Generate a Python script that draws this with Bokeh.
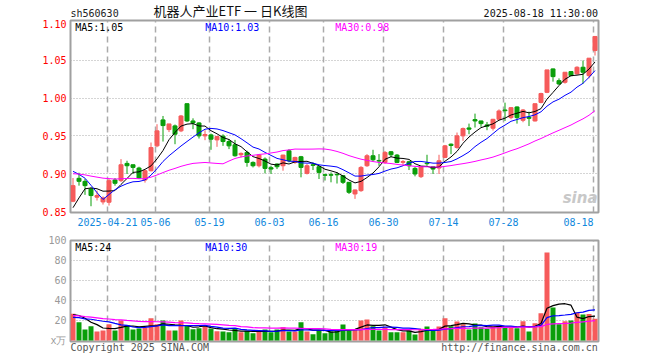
import numpy as np
from bokeh.plotting import figure
from bokeh.models import ColumnDataSource, FixedTicker, Label, Range1d, PrintfTickFormatter
from bokeh.layouts import column
from bokeh.embed import file_html
from bokeh.resources import INLINE

# ---------------- data ----------------
dates = [
    "2025-04-11", "2025-04-14", "2025-04-15", "2025-04-16", "2025-04-17", "2025-04-18",
    "2025-04-21", "2025-04-22", "2025-04-23", "2025-04-24", "2025-04-25", "2025-04-28",
    "2025-04-29", "2025-04-30",
    "2025-05-06", "2025-05-07", "2025-05-08", "2025-05-09", "2025-05-12", "2025-05-13",
    "2025-05-14", "2025-05-15", "2025-05-16", "2025-05-19", "2025-05-20", "2025-05-21",
    "2025-05-22", "2025-05-23", "2025-05-26", "2025-05-27", "2025-05-28", "2025-05-29",
    "2025-05-30",
    "2025-06-03", "2025-06-04", "2025-06-05", "2025-06-06", "2025-06-09", "2025-06-10",
    "2025-06-11", "2025-06-12", "2025-06-13", "2025-06-16", "2025-06-17", "2025-06-18",
    "2025-06-19", "2025-06-20", "2025-06-23", "2025-06-24", "2025-06-25", "2025-06-26",
    "2025-06-27", "2025-06-30",
    "2025-07-01", "2025-07-02", "2025-07-03", "2025-07-04", "2025-07-07", "2025-07-08",
    "2025-07-09", "2025-07-10", "2025-07-11", "2025-07-14", "2025-07-15", "2025-07-16",
    "2025-07-17", "2025-07-18", "2025-07-21", "2025-07-22", "2025-07-23", "2025-07-24",
    "2025-07-25", "2025-07-28", "2025-07-29", "2025-07-30", "2025-07-31",
    "2025-08-01", "2025-08-04", "2025-08-05", "2025-08-06", "2025-08-07", "2025-08-08",
    "2025-08-11", "2025-08-12", "2025-08-13", "2025-08-14", "2025-08-15", "2025-08-18",
]

open_ = [
    0.8636, 0.8939, 0.8899, 0.8798, 0.8689, 0.8627, 0.8623, 0.8917, 0.8908, 0.9136,
    0.9118, 0.9075, 0.8917, 0.9039, 0.9368, 0.9711, 0.9583, 0.9632, 0.9566, 0.9925,
    0.9697, 0.9671, 0.9500, 0.9513, 0.9447, 0.9496, 0.9425, 0.9382, 0.9250, 0.9281,
    0.9149, 0.9105, 0.9193, 0.9079, 0.9127, 0.9105, 0.9303, 0.9149, 0.9224, 0.9004,
    0.9118, 0.9092, 0.8987, 0.8987, 0.8990, 0.8974, 0.8886, 0.8732, 0.8776, 0.9105,
    0.9237, 0.9175, 0.9149, 0.9290, 0.9246, 0.9150, 0.9158, 0.9070, 0.8961, 0.9140,
    0.9092, 0.9075, 0.9215, 0.9390, 0.9346, 0.9500, 0.9605, 0.9715, 0.9697, 0.9645,
    0.9601, 0.9719, 0.9842, 0.9741, 0.9882, 0.9706, 0.9745, 0.9697, 0.9942, 1.0075,
    1.0385, 1.0230, 1.0208, 1.0350, 1.0319, 1.0407, 1.0296, 1.0628,
]
high = [
    0.8943, 0.9013, 0.8930, 0.8820, 0.8776, 0.8700, 0.8930, 0.8943, 0.9193, 0.9171,
    0.9120, 0.9092, 0.9050, 0.9412, 0.9654, 0.9763, 0.9658, 0.9650, 0.9776, 0.9930,
    0.9732, 0.9680, 0.9575, 0.9530, 0.9500, 0.9520, 0.9456, 0.9447, 0.9281, 0.9303,
    0.9162, 0.9259, 0.9215, 0.9105, 0.9136, 0.9250, 0.9325, 0.9224, 0.9235, 0.9127,
    0.9149, 0.9100, 0.9000, 0.9017, 0.9020, 0.8980, 0.8890, 0.8790, 0.9100, 0.9259,
    0.9316, 0.9259, 0.9300, 0.9300, 0.9260, 0.9180, 0.9170, 0.9090, 0.9100, 0.9250,
    0.9100, 0.9250, 0.9380, 0.9400, 0.9544, 0.9610, 0.9662, 0.9794, 0.9700, 0.9684,
    0.9725, 0.9850, 0.9939, 0.9880, 0.9890, 0.9855, 0.9820, 0.9925, 1.0070, 1.0372,
    1.0390, 1.0260, 1.0341, 1.0355, 1.0420, 1.0496, 1.0527, 1.0814,
]
low = [
    0.8623, 0.8842, 0.8720, 0.8570, 0.8645, 0.8592, 0.8579, 0.8842, 0.8890, 0.8996,
    0.8996, 0.8930, 0.8882, 0.9030, 0.9350, 0.9425, 0.9550, 0.9390, 0.9550, 0.9684,
    0.9588, 0.9465, 0.9443, 0.9316, 0.9355, 0.9368, 0.9325, 0.9225, 0.9215, 0.9092,
    0.9083, 0.9083, 0.9004, 0.8996, 0.9061, 0.9039, 0.9150, 0.9130, 0.8952, 0.8990,
    0.9048, 0.8930, 0.8910, 0.8886, 0.8870, 0.8864, 0.8732, 0.8667, 0.8760, 0.9090,
    0.9160, 0.9105, 0.9130, 0.9220, 0.9140, 0.9110, 0.9048, 0.8965, 0.8943, 0.9105,
    0.8996, 0.8996, 0.9206, 0.9259, 0.9330, 0.9434, 0.9522, 0.9610, 0.9620, 0.9575,
    0.9570, 0.9710, 0.9697, 0.9720, 0.9662, 0.9680, 0.9630, 0.9690, 0.9930, 1.0065,
    1.0217, 1.0175, 1.0190, 1.0290, 1.0310, 1.0186, 1.0260, 1.0562,
]
close = [
    0.8842, 0.8899, 0.8842, 0.8711, 0.8711, 0.8680, 0.8908, 0.8873, 0.9118, 0.9105,
    0.9083, 0.8943, 0.9039, 0.9346, 0.9566, 0.9636, 0.9658, 0.9522, 0.9763, 0.9697,
    0.9671, 0.9500, 0.9518, 0.9456, 0.9491, 0.9425, 0.9368, 0.9237, 0.9268, 0.9149,
    0.9105, 0.9246, 0.9070, 0.9061, 0.9092, 0.9246, 0.9171, 0.9215, 0.9083, 0.9105,
    0.9110, 0.9017, 0.8978, 0.8980, 0.8985, 0.8886, 0.8754, 0.8785, 0.9083, 0.9237,
    0.9184, 0.9167, 0.9281, 0.9250, 0.9149, 0.9160, 0.9105, 0.8996, 0.9092, 0.9132,
    0.9061, 0.9171, 0.9368, 0.9373, 0.9500, 0.9596, 0.9588, 0.9697, 0.9662, 0.9627,
    0.9719, 0.9829, 0.9833, 0.9873, 0.9741, 0.9842, 0.9732, 0.9925, 1.0060, 1.0372,
    1.0283, 1.0186, 1.0341, 1.0296, 1.0407, 1.0341, 1.0527, 1.0814,
]
# volume, unit: 10k lots
volume = [
    26.7, 18.3, 11.0, 14.3, 9.0, 10.0, 16.3, 10.0, 20.0, 15.3,
    11.0, 12.0, 12.7, 22.3, 16.3, 20.0, 10.0, 10.0, 20.0, 15.0,
    11.3, 12.3, 14.3, 11.7, 9.3, 9.0, 8.3, 11.7, 8.3, 9.7,
    7.3, 9.0, 11.0, 8.3, 11.0, 13.3, 9.0, 9.0, 18.3, 9.0,
    6.3, 10.0, 7.3, 9.0, 10.0, 16.0, 10.0, 10.7, 20.0, 21.0,
    14.3, 10.0, 13.3, 8.3, 8.3, 8.3, 10.0, 6.0, 11.7, 14.0,
    10.0, 14.0, 22.3, 14.3, 19.0, 16.3, 11.0, 17.0, 13.3, 11.7,
    14.3, 14.3, 13.3, 13.3, 12.3, 19.3, 9.0, 17.3, 27.3, 88.0,
    33.0, 16.3, 19.3, 20.0, 28.0, 26.0, 26.5, 21.7,
]
# sessions before the visible window (only feed the moving averages)
pre_close = [
    0.905, 0.915, 0.920, 0.912, 0.908, 0.910, 0.905, 0.900, 0.898, 0.905,
    0.908, 0.902, 0.875, 0.870, 0.868, 0.874, 0.878, 0.895, 0.905, 0.915,
    0.930, 0.935, 0.965, 0.968, 0.958, 0.825, 0.824, 0.866, 0.876,
]
pre_volume = [
    34, 31, 28, 30, 33, 29, 27, 30, 32, 26,
    24, 21, 20, 23, 22, 21, 22, 24, 21, 22,
    22, 22, 19, 19, 19.7, 23.3, 24.5, 34.3, 21.2,
]

tick_dates = ["2025-04-21", "2025-05-06", "2025-05-19", "2025-06-03", "2025-06-16",
              "2025-06-30", "2025-07-14", "2025-07-28", "2025-08-18"]
tick_labels = ["2025-04-21", "05-06", "05-19", "06-03", "06-16",
               "06-30", "07-14", "07-28", "08-18"]
price_ticks = [0.85, 0.90, 0.95, 1.00, 1.05, 1.10]
vol_ticks = [0, 20, 40, 60, 80, 100]

code_text = "sh560630"
title_text = "机器人产业ETF 一 日K线图"
time_text = "2025-08-18 11:30:00"
price_ma_text = ["MA5:1.05", "MA10:1.03", "MA30:0.98"]
vol_ma_text = ["MA5:24", "MA10:30", "MA30:19"]
vol_unit_text = "x万"
copyright_text = "Copyright 2025 SINA.COM"
url_text = "http://finance.sina.com.cn"

# ---------------- derived ----------------
n = len(dates)
idx = np.arange(n)


def moving_avg(vals, pre, w):
    full = np.array(list(pre) + list(vals), dtype=float)
    k = len(pre)
    return np.array([full[k + i - w + 1:k + i + 1].mean() for i in range(len(vals))])


UP = "#f65b5b"
DOWN = "#0a9e0a"
o = np.array(open_); c = np.array(close)
up = c >= o
colors = [UP if u else DOWN for u in up]
src = ColumnDataSource(dict(
    x=idx, open=o, close=c, high=np.array(high), low=np.array(low),
    top=np.maximum(o, c), bottom=np.minimum(o, c), color=colors, vol=np.array(volume),
))

ma_cols = ["black", "#0000ff", "#ff00ff"]
windows = [5, 10, 30]

MONO = "DejaVu Sans Mono"
FS = "10px"
CW = 6.02               # advance width of one DejaVu Sans Mono char at 10px
XBLUE = "#1188dd"
XR = Range1d(-0.4167, 87.5833)
W = 660
BL, BR = 70, 62          # left / right borders -> frame from x=70 to x=598

tick_pos = [dates.index(d) - 0.25 for d in tick_dates]
x_at = lambda px: XR.start + (px - BL) / 6.0


def add_label(fig, x, y, text, color, align="left", baseline="middle", y_offset=0,
              font=MONO, size=FS, style="normal"):
    fig.add_layout(Label(x=x, y=y, text=text, text_color=color, text_align=align,
                         text_baseline=baseline, y_offset=y_offset, text_font=font,
                         text_font_size=size, text_font_style=style))


def style_axis(ax, col, standoff=4):
    ax.axis_line_color = None
    ax.major_tick_line_color = None
    ax.minor_tick_line_color = None
    ax.major_tick_out = 0
    ax.major_tick_in = 0
    ax.major_label_standoff = standoff
    ax.major_label_text_color = col
    ax.major_label_text_font = MONO
    ax.major_label_text_font_size = FS


# ---------------- header row ----------------
h = figure(width=W, height=19, x_range=XR, y_range=Range1d(0, 19),
           output_backend="svg", toolbar_location=None,
           min_border_left=BL, min_border_right=BR, min_border_top=0, min_border_bottom=0)
h.outline_line_color = None
h.xaxis.visible = False
h.yaxis.visible = False
h.xgrid.visible = False
h.ygrid.visible = False
add_label(h, x_at(70), 6.5, code_text, "#222222")
add_label(h, x_at(230), 9.5, title_text, "#111111", align="center",
          font="Noto Sans CJK SC", size="13px")
add_label(h, x_at(597.5), 6.5, time_text, "#111111", align="right")

# ---------------- price figure ----------------
p = figure(width=W, height=213, x_range=XR, y_range=Range1d(0.8487, 1.1025),
           output_backend="svg", toolbar_location=None,
           min_border_left=BL, min_border_right=BR, min_border_top=1, min_border_bottom=20)
p.outline_line_color = "#a0a0a0"
p.outline_line_width = 2

p.xaxis.ticker = FixedTicker(ticks=tick_pos)
overrides = {t: l for t, l in zip(tick_pos, tick_labels)}
overrides[tick_pos[-1]] = tick_labels[-1] + "\u00a0" * 5   # keep last label inside the frame
p.xaxis.major_label_overrides = overrides
p.xgrid.ticker = FixedTicker(ticks=tick_pos)
p.xgrid.grid_line_color = "#aaaaaa"
p.xgrid.grid_line_dash = "6 4"
p.xgrid.grid_line_width = 1.5
p.ygrid.ticker = FixedTicker(ticks=price_ticks[1:-1])
p.ygrid.grid_line_color = "#aaaaaa"
p.ygrid.grid_line_dash = "1 2"
p.yaxis.ticker = FixedTicker(ticks=price_ticks)
p.yaxis.formatter = PrintfTickFormatter(format="%.2f")
style_axis(p.xaxis, XBLUE)
style_axis(p.yaxis, "#ff0000")

p.segment(x0="x", y0="low", x1="x", y1="high", color="color", line_width=1, source=src)
p.vbar(x="x", width=4 / 6, top="top", bottom="bottom", fill_color="color",
       line_color="color", line_width=1, source=src)
for w, col in zip(windows, ma_cols):
    p.line(idx, moving_avg(close, pre_close, w), color=col, line_width=1)

y_top = p.y_range.end
for xpx, txt, col in zip((74.7, 204.7, 334.7), price_ma_text, ma_cols):
    add_label(p, x_at(xpx), y_top, txt, col, y_offset=-6.5)
add_label(p, x_at(597), p.y_range.start, "sina", "#c8c8c8", align="right",
          baseline="bottom", y_offset=6, font="DejaVu Sans", size="15px", style="bold italic")

# ---------------- volume figure (with footer texts on its lower axis) ----------------
v = figure(width=W, height=128, x_range=XR, y_range=Range1d(-1, 100),
           output_backend="svg", toolbar_location=None,
           min_border_left=BL, min_border_right=BR, min_border_top=8, min_border_bottom=19)
v.outline_line_color = "#a0a0a0"
v.outline_line_width = 2
v.xgrid.ticker = FixedTicker(ticks=tick_pos)
v.xgrid.grid_line_color = "#aaaaaa"
v.xgrid.grid_line_dash = "6 4"
v.xgrid.grid_line_width = 1.5
v.ygrid.ticker = FixedTicker(ticks=vol_ticks[1:-1])
v.ygrid.grid_line_color = "#aaaaaa"
v.ygrid.grid_line_dash = "1 2"
v.yaxis.ticker = FixedTicker(ticks=vol_ticks)
v.yaxis.major_label_overrides = {0: vol_unit_text}
style_axis(v.yaxis, "#999999")

# footer texts: copyright left-aligned with the frame, url right-aligned with it
foot_left = x_at(70 + len(copyright_text) * CW / 2)
foot_right = x_at(597.3 - len(url_text) * CW / 2)
v.xaxis.ticker = FixedTicker(ticks=[foot_left, foot_right])
v.xaxis.major_label_overrides = {foot_left: copyright_text, foot_right: url_text}
style_axis(v.xaxis, "#555555", standoff=0)

v.vbar(x="x", width=5 / 6, top="vol", bottom=0, fill_color="color", line_color=None, source=src)
for w, col in zip(windows, ma_cols):
    v.line(idx, moving_avg(volume, pre_volume, w), color=col, line_width=1.2)

for xpx, txt, col in zip((74.7, 204.7, 334.7), vol_ma_text, ma_cols):
    add_label(v, x_at(xpx), v.y_range.end, txt, col, y_offset=-6.5)

layout = column(h, p, v, spacing=0)
open("out.html", "w").write(file_html(layout, INLINE))
